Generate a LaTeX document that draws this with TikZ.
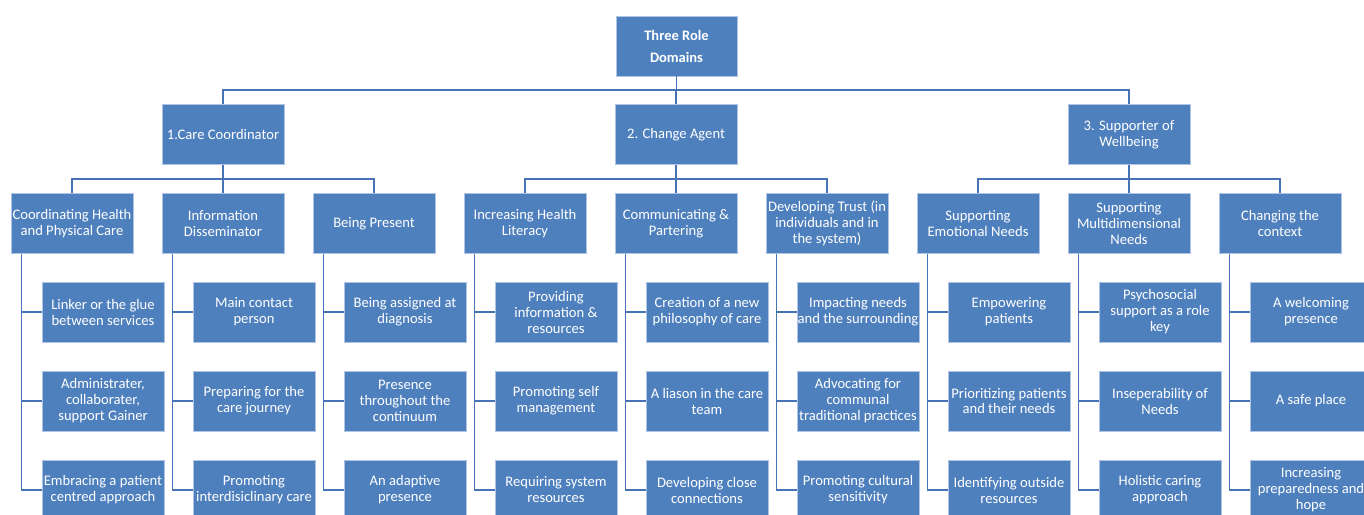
\documentclass[tikz,border=0pt]{standalone}
\usepackage{fontspec}
\setmainfont{Carlito}
\definecolor{boxfill}{RGB}{79,128,190}
\definecolor{boxedge}{RGB}{175,196,228}
\definecolor{linecol}{RGB}{72,114,182}
\tikzset{
  box/.style={rectangle, fill=boxfill, draw=boxedge, line width=0.8pt,
    minimum width=122pt, minimum height=60pt, inner xsep=0pt, inner ysep=1pt,
    align=center, text=white, font=\fontsize{14.6}{16}\selectfont},
  topbox/.style={box, minimum width=121pt, font=\bfseries\fontsize{14.5}{22}\selectfont},
  conn/.style={draw=linecol, line width=1.6pt}
}
\begin{document}
\begin{tikzpicture}[x=1pt,y=-1pt]
\useasboundingbox (0,0) rectangle (1364,514);
\clip (0,0) rectangle (1364,514);
% top
\node[topbox] (top) at (676.5,46) {Three Role\\Domains};
% level 1
\node[box] (c1) at (223,134.5) {1.Care Coordinator};
\node[box] (c2) at (676,134.5) {2. Change Agent};
\node[box] (c3) at (1129,134.5) {3. Supporter of\\Wellbeing};
% level 2
\node[box] (b0) at (72,223.5) {Coordinating Health\\and Physical Care};
\node[box] (b1) at (223,223.5) {Information\\Disseminator};
\node[box] (b2) at (374,223.5) {Being Present};
\node[box] (b3) at (525,223.5) {Increasing Health\\Literacy};
\node[box] (b4) at (676,223.5) {Communicating \&\\Partering};
\node[box] (b5) at (827,223.5) {Developing Trust (in\\individuals and in\\the system)};
\node[box] (b6) at (978,223.5) {Supporting\\Emotional Needs};
\node[box] (b7) at (1129,223.5) {Supporting\\Multidimensional\\Needs};
\node[box] (b8) at (1280,223.5) {Changing the\\context};
% leaves
\node[box] (l0a) at (103,312) {Linker or the glue\\between services};
\node[box] (l0b) at (103,401) {Administrater,\\collaborater,\\support Gainer};
\node[box] (l0c) at (103,490) {Embracing a patient\\centred approach};
\node[box] (l1a) at (254,312) {Main contact\\person};
\node[box] (l1b) at (254,401) {Preparing for the\\care journey};
\node[box] (l1c) at (254,490) {Promoting\\interdisiclinary care};
\node[box] (l2a) at (405,312) {Being assigned at\\diagnosis};
\node[box] (l2b) at (405,401) {Presence\\throughout the\\continuum};
\node[box] (l2c) at (405,490) {An adaptive\\presence};
\node[box] (l3a) at (556,312) {Providing\\information \&\\resources};
\node[box] (l3b) at (556,401) {Promoting self\\management};
\node[box] (l3c) at (556,490) {Requiring system\\resources};
\node[box] (l4a) at (707,312) {Creation of a new\\philosophy of care};
\node[box] (l4b) at (707,401) {A liason in the care\\team};
\node[box] (l4c) at (707,490) {Developing close\\connections};
\node[box] (l5a) at (858,312) {Impacting needs\\and the surrounding};
\node[box] (l5b) at (858,401) {Advocating for\\communal\\traditional practices};
\node[box] (l5c) at (858,490) {Promoting cultural\\sensitivity};
\node[box] (l6a) at (1009,312) {Empowering\\patients};
\node[box] (l6b) at (1009,401) {Prioritizing patients\\and their needs};
\node[box] (l6c) at (1009,490) {Identifying outside\\resources};
\node[box] (l7a) at (1160,312) {Psychosocial\\support as a role\\key};
\node[box] (l7b) at (1160,401) {Inseperability of\\Needs};
\node[box] (l7c) at (1160,490) {Holistic caring\\approach};
\node[box] (l8a) at (1311,312) {A welcoming\\presence};
\node[box] (l8b) at (1311,401) {A safe place};
\node[box] (l8c) at (1311,490) {Increasing\\preparedness and\\hope};
% buses
\coordinate (bus0) at (0,90);
\coordinate (bus1) at (0,179);
\draw[conn] (top.south) -- (top.south |- bus0);
\draw[conn] (c1.north) -- (c1.north |- bus0) -- (c3.north |- bus0) -- (c3.north);
\draw[conn] (c2.north) -- (c2.north |- bus0);
\foreach \p/\a/\b/\c in {c1/b0/b1/b2, c2/b3/b4/b5, c3/b6/b7/b8}{
  \draw[conn] (\p.south) -- (\p.south |- bus1);
  \draw[conn] (\a.north) -- (\a.north |- bus1) -- (\c.north |- bus1) -- (\c.north);
  \draw[conn] (\b.north) -- (\b.north |- bus1);
}
\foreach \k in {0,...,8}{
  \coordinate (v\k) at ([xshift=11pt]b\k.south west);
  \draw[conn] (v\k) |- (l\k c.west);
  \draw[conn] (v\k |- l\k a.west) -- (l\k a.west);
  \draw[conn] (v\k |- l\k b.west) -- (l\k b.west);
}
\end{tikzpicture}
\end{document}
